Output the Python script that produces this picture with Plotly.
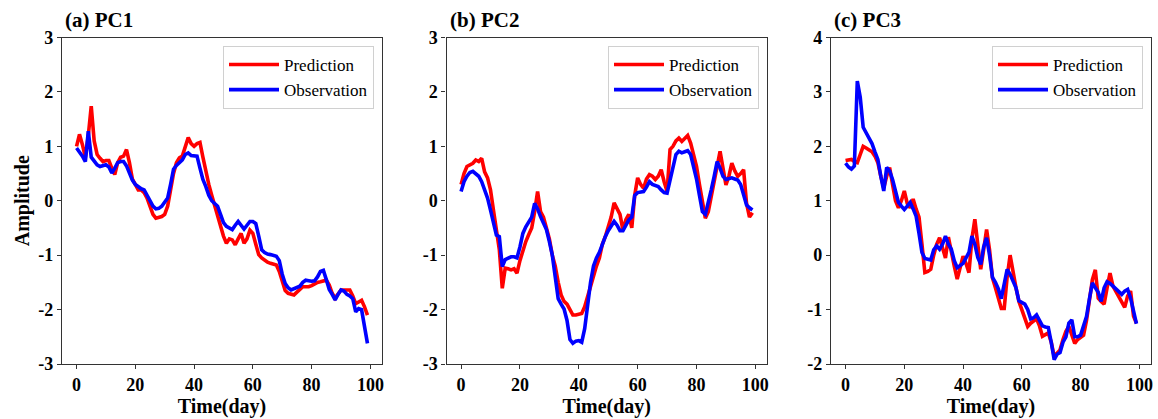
import plotly.graph_objects as go

days = list(range(100))

pc1_pred = [1.0, 1.22, 1.03, 0.8, 1.2, 1.74, 1.1, 0.85, 0.78, 0.72, 0.74, 0.74, 0.6, 0.48, 0.7, 0.8, 0.82, 0.94, 0.7, 0.4,
            0.3, 0.2, 0.2, 0.15, 0.05, -0.1, -0.25, -0.32, -0.3, -0.29, -0.25, -0.1, 0.2, 0.5, 0.7, 0.79, 0.82, 1.0, 1.16, 1.05,
            1.0, 1.05, 1.07, 0.8, 0.51, 0.3, 0.1, -0.1, -0.26, -0.45, -0.65, -0.78, -0.7, -0.72, -0.81, -0.7, -0.6, -0.78, -0.7, -0.54,
            -0.6, -0.8, -0.99, -1.05, -1.1, -1.13, -1.15, -1.17, -1.18, -1.3, -1.5, -1.65, -1.7, -1.72, -1.73, -1.68, -1.62, -1.58, -1.58, -1.58,
            -1.56, -1.52, -1.5, -1.49, -1.47, -1.46, -1.55, -1.7, -1.79, -1.7, -1.64, -1.64, -1.64, -1.64, -1.75, -1.89, -1.86, -1.83, -1.95, -2.1]
pc1_obs = [0.97, 0.9, 0.82, 0.72, 1.28, 0.8, 0.72, 0.66, 0.63, 0.64, 0.66, 0.62, 0.51, 0.6, 0.7, 0.72, 0.72, 0.64, 0.5, 0.38,
           0.3, 0.25, 0.22, 0.2, 0.1, -0.02, -0.1, -0.15, -0.14, -0.1, -0.03, 0.05, 0.3, 0.58, 0.65, 0.7, 0.75, 0.85, 0.88, 0.83,
           0.82, 0.82, 0.6, 0.39, 0.26, 0.1, 0.0, -0.05, -0.1, -0.25, -0.4, -0.47, -0.5, -0.53, -0.45, -0.38, -0.45, -0.52, -0.45, -0.38,
           -0.38, -0.42, -0.65, -0.9, -0.95, -0.98, -0.99, -1.0, -1.02, -1.1, -1.35, -1.52, -1.6, -1.64, -1.62, -1.6, -1.57, -1.5, -1.46, -1.47,
           -1.48, -1.47, -1.4, -1.3, -1.28, -1.45, -1.63, -1.72, -1.82, -1.72, -1.64, -1.66, -1.72, -1.75, -1.8, -2.04, -1.98, -2.0, -2.3, -2.62]

pc2_pred = [0.3, 0.5, 0.63, 0.66, 0.69, 0.75, 0.72, 0.78, 0.53, 0.42, 0.2, -0.17, -0.6, -0.9, -1.61, -1.24, -1.25, -1.27, -1.25, -1.33,
            -1.1, -0.9, -0.75, -0.62, -0.5, -0.2, 0.17, -0.2, -0.3, -0.5, -0.7, -1.0, -1.2, -1.5, -1.73, -1.85, -1.9, -2.0, -2.1, -2.1,
            -2.08, -2.07, -1.95, -1.75, -1.55, -1.35, -1.2, -1.05, -0.8, -0.66, -0.5, -0.3, -0.04, -0.15, -0.25, -0.54, -0.35, -0.25, -0.5, 0.1,
            0.42, 0.3, 0.23, 0.4, 0.48, 0.45, 0.39, 0.45, 0.57, 0.35, 0.17, 0.94, 1.0, 1.1, 1.15, 1.09, 1.15, 1.2, 1.06, 0.85,
            0.63, 0.3, 0.0, -0.32, -0.2, 0.08, 0.4, 0.7, 0.91, 0.6, 0.29, 0.45, 0.69, 0.55, 0.45, 0.5, 0.57, -0.05, -0.3, -0.22]
pc2_obs = [0.17, 0.35, 0.45, 0.52, 0.54, 0.5, 0.45, 0.35, 0.2, 0.05, -0.17, -0.4, -0.63, -0.66, -1.21, -1.08, -1.05, -1.03, -1.03, -1.05,
           -0.85, -0.6, -0.48, -0.38, -0.3, -0.05, -0.15, -0.29, -0.4, -0.53, -0.75, -1.0, -1.4, -1.8, -1.9, -1.99, -2.2, -2.55, -2.62, -2.58,
           -2.57, -2.6, -2.35, -1.9, -1.5, -1.2, -1.05, -0.95, -0.8, -0.66, -0.55, -0.45, -0.38, -0.45, -0.55, -0.55, -0.45, -0.35, -0.3, 0.1,
           0.15, 0.16, 0.17, 0.25, 0.35, 0.3, 0.28, 0.26, 0.2, 0.15, 0.14, 0.4, 0.63, 0.85, 0.91, 0.88, 0.9, 0.92, 0.85, 0.63,
           0.4, 0.1, -0.2, -0.25, -0.05, 0.2, 0.45, 0.72, 0.6, 0.45, 0.39, 0.4, 0.42, 0.4, 0.38, 0.3, 0.1, -0.08, -0.13, -0.17]

pc3_pred = [1.74, 1.75, 1.76, 1.72, 1.7, 1.85, 2.0, 1.97, 1.94, 1.9, 1.82, 1.7, 1.45, 1.24, 1.45, 1.61, 1.3, 1.0, 0.87, 1.0,
            1.18, 0.95, 0.87, 1.03, 0.85, 0.7, 0.2, -0.32, -0.3, -0.26, 0.0, 0.2, 0.32, 0.1, -0.05, 0.33, 0.1, -0.2, -0.44, -0.2,
            -0.02, -0.15, -0.32, 0.3, 0.66, 0.2, -0.26, 0.1, 0.47, 0.1, -0.42, -0.6, -0.8, -0.98, -0.98, -0.4, 0.0, -0.35, -0.6, -0.85,
            -1.02, -1.15, -1.31, -1.25, -1.2, -1.17, -1.3, -1.49, -1.46, -1.43, -1.6, -1.86, -1.8, -1.74, -1.55, -1.4, -1.31, -1.45, -1.62, -1.55,
            -1.5, -1.47, -1.2, -0.8, -0.45, -0.27, -0.79, -0.85, -0.9, -0.6, -0.33, -0.57, -0.66, -0.75, -0.85, -0.96, -0.75, -0.66, -1.12, -1.25]
pc3_obs = [1.69, 1.62, 1.58, 1.64, 3.2, 2.9, 2.35, 2.25, 2.15, 2.05, 1.9, 1.76, 1.45, 1.18, 1.61, 1.55, 1.39, 1.15, 0.97, 0.9,
           0.84, 0.9, 0.97, 0.85, 0.72, 0.4, 0.05, -0.06, -0.08, -0.09, 0.1, 0.17, 0.11, 0.2, 0.35, 0.2, 0.11, -0.1, -0.23, -0.18,
           -0.15, -0.05, 0.05, 0.35, 0.2, -0.04, -0.17, 0.15, 0.32, 0.0, -0.41, -0.5, -0.62, -0.8, -0.5, -0.26, -0.35, -0.47, -0.6, -0.84,
           -0.87, -0.9, -1.0, -1.17, -1.15, -1.1, -1.2, -1.3, -1.32, -1.33, -1.6, -1.92, -1.82, -1.79, -1.6, -1.5, -1.25, -1.19, -1.5, -1.5,
           -1.47, -1.3, -1.13, -0.8, -0.51, -0.6, -0.68, -0.85, -0.6, -0.49, -0.52, -0.57, -0.62, -0.68, -0.72, -0.66, -0.63, -0.79, -1.0, -1.26]

panel_titles = ["(a) PC1", "(b) PC2", "(c) PC3"]
y_ticks = [[-3, -2, -1, 0, 1, 2, 3], [-3, -2, -1, 0, 1, 2, 3], [-2, -1, 0, 1, 2, 3, 4]]
x_ticks = [0, 20, 40, 60, 80, 100]
series_names = ["Prediction", "Observation"]

W, H = 1158, 419
FONT = "Liberation Serif"
panels_px = [(62, 382), (446.5, 767), (831, 1151)]
top_px, bot_px = 37.5, 364
ydom = [(H - bot_px) / H, (H - top_px) / H]

preds = [pc1_pred, pc2_pred, pc3_pred]
obss = [pc1_obs, pc2_obs, pc3_obs]

fig = go.Figure()
for i in range(3):
    sfx = "" if i == 0 else str(i + 1)
    leg = "legend" if i == 0 else f"legend{i + 1}"
    fig.add_trace(go.Scatter(x=days, y=preds[i], mode="lines", name=series_names[0],
                             line=dict(color="#ff0000", width=3.6), xaxis="x" + sfx, yaxis="y" + sfx, legend=leg))
    fig.add_trace(go.Scatter(x=days, y=obss[i], mode="lines", name=series_names[1],
                             line=dict(color="#0000ff", width=3.6), xaxis="x" + sfx, yaxis="y" + sfx, legend=leg))

layout = dict(width=W, height=H, margin=dict(l=0, r=0, t=0, b=0, autoexpand=False),
              template="none",
              paper_bgcolor="white", plot_bgcolor="white", showlegend=True,
              font=dict(family=FONT, color="black"))
annotations = []
for i in range(3):
    sfx = "" if i == 0 else str(i + 1)
    x0, x1 = panels_px[i]
    axis_common = dict(showline=True, mirror=True, linecolor="#333333", linewidth=1.2, automargin=False,
                       ticks="outside", ticklen=4, tickcolor="#333333", showgrid=False, zeroline=False,
                       tickfont=dict(family=FONT, size=18, color="black", weight="bold"))
    layout["xaxis" + sfx] = dict(domain=[x0 / W, x1 / W], range=[-4.95, 103.95], tickvals=x_ticks,
                                 anchor="y" + sfx,
                                 title=dict(text="<b>Time(day)</b>", font=dict(family=FONT, size=20), standoff=2),
                                 **axis_common)
    yt = y_ticks[i]
    ydict = dict(domain=ydom, range=[yt[0], yt[-1]], tickvals=yt, ticktext=[str(v) for v in yt],
                 anchor="x" + sfx, **axis_common)
    if i == 0:
        ydict["title"] = dict(text="<b>Amplitude</b>", font=dict(family=FONT, size=20), standoff=3)
    layout["yaxis" + sfx] = ydict
    leg = "legend" if i == 0 else f"legend{i + 1}"
    layout[leg] = dict(x=(x1 - 8) / W, xanchor="right", y=(H - 46) / H, yanchor="top",
                       bgcolor="white", bordercolor="#d0d0d0", borderwidth=1, itemwidth=50,
                       font=dict(family=FONT, size=17, color="black"))
    annotations.append(dict(text="<b>" + panel_titles[i] + "</b>", x=(x0 + 1) / W, y=(H - 34) / H,
                            xref="paper", yref="paper", xanchor="left", yanchor="bottom", showarrow=False,
                            font=dict(family=FONT, size=21, color="black")))
layout["annotations"] = annotations
fig.update_layout(**layout)
fig.write_html("out.html", config={"displayModeBar": False},
               post_script="document.body.style.margin='0';document.body.style.overflow='hidden';")
